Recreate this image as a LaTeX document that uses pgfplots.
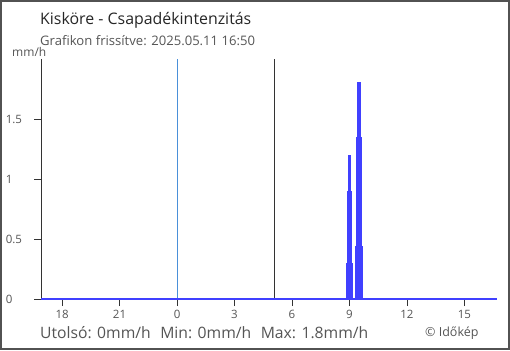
\documentclass[border=0pt]{standalone}
\usepackage{fontspec}
\setmainfont{Open Sans}
\usepackage{pgfplots}
\pgfplotsset{compat=1.18}
\definecolor{barblue}{HTML}{4040FF}
\definecolor{midblue}{HTML}{4A90D9}
\definecolor{txtgray}{HTML}{555555}
\definecolor{axgray}{HTML}{333333}
\begin{document}
\begin{tikzpicture}[x=1bp,y=1bp]
\useasboundingbox (0,0) rectangle (510,350);
\draw[line width=2bp, color=axgray!85] (1,1) rectangle (509,349);
\node[anchor=base west, inner sep=0pt, text=black!85, font=\fontsize{15.9bp}{18bp}\selectfont] at (40,326) {Kisköre - Csapadékintenzitás};
\node[anchor=base west, inner sep=0pt, text=txtgray, font=\fontsize{13.1bp}{15bp}\selectfont] at (40,305) {Grafikon frissítve: 2025.05.11 16:50};
\node[anchor=base west, inner sep=0pt, text=txtgray, font=\fontsize{12bp}{14bp}\selectfont] at (12,294) {mm/h};
\node[anchor=base west, inner sep=0pt, text=txtgray, font=\fontsize{15.7bp}{18bp}\selectfont] at (40,12) {Utolsó: 0mm/h\hspace{9.5bp}Min: 0mm/h\hspace{9.5bp}Max: 1.8mm/h};
\node[anchor=base west, inner sep=0pt, text=txtgray, font=\fontsize{12.5bp}{15bp}\selectfont] at (425,14) {© Időkép};
\begin{axis}[
  at={(41bp,51bp)}, anchor=south west,
  scale only axis, width=456bp, height=240bp,
  xmin=-7.1, xmax=16.7, ymin=0, ymax=2,
  axis x line=bottom, axis y line=left,
  axis line style={-, color=axgray, line width=0.8bp},
  tick align=outside, major tick length=7bp,
  tick style={color=axgray, line width=0.8bp},
  xtick={-6,-3,0,3,6,9,12,15},
  xticklabels={18,21,0,3,6,9,12,15},
  ytick={0,0.5,1,1.5},
  yticklabels={0,0.5,1,1.5},
  ticklabel style={text=txtgray, font=\fontsize{11.5bp}{13bp}\selectfont},
  /pgf/number format/assume math mode=true,
  yticklabel style={anchor=east, text width=22bp, align=left, inner sep=0pt, xshift=-6bp},
  xticklabel style={yshift=-1bp},
  clip=false,
]
\addplot[color=midblue, line width=0.8bp] coordinates {(0,0) (0,2)};
\addplot[color=axgray, line width=0.8bp] coordinates {(5.06,0) (5.06,2)};
\addplot[color=barblue, line width=2.2bp] coordinates {(-7.1,0) (16.7,0)};
\addplot[ybar, bar shift=0pt, bar width=6.7bp, fill=barblue, draw=none] coordinates {(8.99,0.3)};
\addplot[ybar, bar shift=0pt, bar width=5.3bp, fill=barblue, draw=none] coordinates {(8.99,0.9)};
\addplot[ybar, bar shift=0pt, bar width=3bp, fill=barblue, draw=none] coordinates {(9.0,1.2)};
\addplot[ybar, bar shift=0pt, bar width=7.7bp, fill=barblue, draw=none] coordinates {(9.48,0.44)};
\addplot[ybar, bar shift=0pt, bar width=6.3bp, fill=barblue, draw=none] coordinates {(9.48,1.35)};
\addplot[ybar, bar shift=0pt, bar width=3.7bp, fill=barblue, draw=none] coordinates {(9.48,1.81)};
\end{axis}
\end{tikzpicture}
\end{document}
